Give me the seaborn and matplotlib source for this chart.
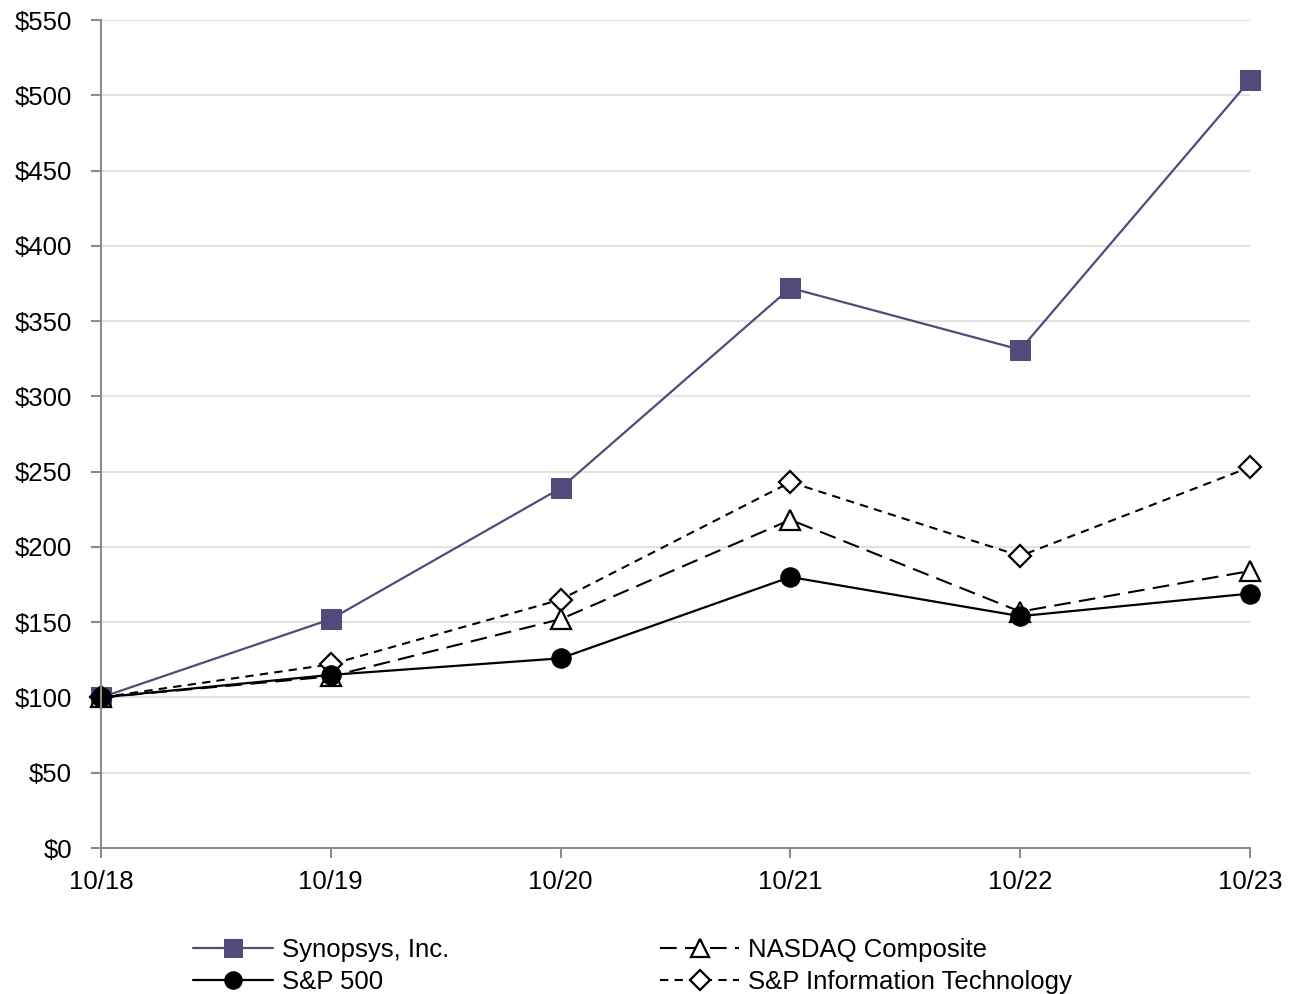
import matplotlib
matplotlib.use("Agg")
import matplotlib.pyplot as plt
import seaborn as sns
import pandas as pd

# Data: cumulative total return, $100 invested 10/18
periods = ['10/18', '10/19', '10/20', '10/21', '10/22', '10/23']
synopsys = [100, 152, 239, 372, 331, 510]
sp500 = [100, 115, 126, 180, 154, 169]
nasdaq = [100, 114, 152, 218, 157, 184]
sp_it = [100, 122, 165, 243, 194, 253]

sns.set_theme(style="white")
plt.rcParams['font.family'] = ['Liberation Sans', 'DejaVu Sans']
plt.rcParams['text.color'] = 'black'

fig = plt.figure(figsize=(12.94, 9.94), dpi=100)
ax = fig.add_axes([101 / 1294, 1 - 848 / 994, (1250 - 101) / 1294, (848 - 20) / 994])

df = pd.DataFrame({'period': periods, 'Synopsys, Inc.': synopsys, 'S&P 500': sp500,
                   'NASDAQ Composite': nasdaq, 'S&P Information Technology': sp_it})

purple = '#534a7b'
styles = {
    'Synopsys, Inc.': dict(color=purple, marker='s', markersize=14, markerfacecolor=purple,
                           markeredgecolor=purple, linewidth=1.6, linestyle='-'),
    'S&P Information Technology': dict(color='black', marker='D', markersize=11, markerfacecolor='white',
                                       markeredgecolor='black', markeredgewidth=1.6, linewidth=1.5,
                                       linestyle=(0, (4, 3))),
    'NASDAQ Composite': dict(color='black', marker='^', markersize=15, markerfacecolor='white',
                             markeredgecolor='black', markeredgewidth=1.6, linewidth=1.5,
                             linestyle=(0, (8, 4))),
    'S&P 500': dict(color='black', marker='o', markersize=14, markerfacecolor='black',
                    markeredgecolor='black', linewidth=1.6, linestyle='-'),
}

for name, kw in styles.items():
    sns.lineplot(data=df, x='period', y=name, ax=ax, sort=False, label=name, clip_on=False, **kw)

ax.set_xlim(0, 5)
ax.set_ylim(0, 550)
ax.set_yticks(range(0, 551, 50))
ax.set_yticklabels([f'${v}' for v in range(0, 551, 50)])
ax.set_xlabel('')
ax.set_ylabel('')

ax.yaxis.grid(True, color='#e3e3e3', linewidth=1.5)
ax.set_axisbelow(True)
for s in ['top', 'right']:
    ax.spines[s].set_visible(False)
for s in ['left', 'bottom']:
    ax.spines[s].set_color('#8c8c8c')
    ax.spines[s].set_linewidth(1.5)

ax.tick_params(axis='y', left=True, length=7, width=1.5, color='#8c8c8c', pad=14, labelsize=18.5, labelcolor='black')
ax.tick_params(axis='x', bottom=True, length=7, width=1.5, color='#8c8c8c', pad=9, labelsize=18.5, labelcolor='black')

handles, labels = ax.get_legend_handles_labels()
order = ['Synopsys, Inc.', 'S&P 500', 'NASDAQ Composite', 'S&P Information Technology']
h = [handles[labels.index(o)] for o in order]
ax.get_legend().remove()
leg = fig.legend(h, order, loc='lower center', bbox_to_anchor=(0.489, -0.023), ncol=2, frameon=False,
                 fontsize=18.5, handlelength=3.1, columnspacing=8.2, handletextpad=0.35, labelspacing=0.3,
                 markerscale=0.9)
for t in leg.get_texts():
    t.set_color('black')

fig.savefig('out.png', dpi=100)
